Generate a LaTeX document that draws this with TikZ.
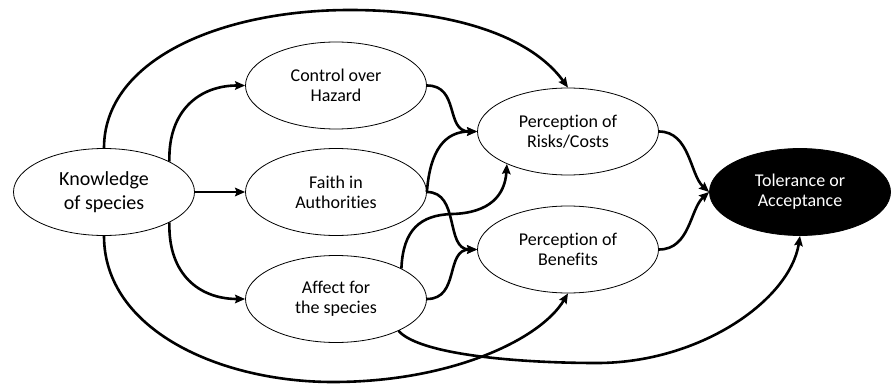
\documentclass[tikz,border=0pt]{standalone}
\usepackage{fontspec}
\setmainfont{Carlito}[RawFeature={-liga}]
\usetikzlibrary{shapes.geometric,arrows.meta}
\begin{document}
\begin{tikzpicture}[x=1pt,y=-1pt,
  ell/.style={ellipse,draw,line width=0.8pt,minimum width=181pt,minimum height=87pt,inner sep=0pt,align=center,font=\fontsize{18}{20}\selectfont},
  conn/.style={line width=2.6pt,-{Stealth[length=10pt,width=8.5pt,inset=1.5pt]}},
  ]
\useasboundingbox (0,0) rectangle (891,385);
\node[ell,font=\fontsize{20}{23.5}\selectfont] (know) at (104,192) {Knowledge\\of species};
\node[ell] (ctrl) at (336,85.5) {Control over\\Hazard};
\node[ell] (faith) at (336,192) {Faith in\\Authorities};
\node[ell] (aff) at (336,299) {Affect for\\the species};
\node[ell] (risk) at (568,131.5) {Perception of\\Risks/Costs};
\node[ell] (ben) at (568,249.5) {Perception of\\Benefits};
\node[ell,fill=black,text=white] (tol) at (800,192) {Tolerance or\\Acceptance};

\draw[conn] (know.east) -- (faith.west);
\draw[conn] (know.25) .. controls (168,110) and (200,85.5) .. (ctrl.west);
\draw[conn] (know.-25) .. controls (168,275) and (200,299) .. (aff.west);
\draw[conn] (know.north) .. controls (104,60) and (220,10) .. (350,10) .. controls (450,10) and (530,35) .. (risk.north);
\draw[conn] (know.south) .. controls (104,330) and (220,382) .. (333,382) .. controls (450,382) and (540,340) .. (ben.south);
\draw[conn] (ctrl.east) .. controls (460,85.5) and (445,131.5) .. (risk.west);
\draw[conn] (faith.east) .. controls (430,150) and (445,131.5) .. (risk.west);
\draw[conn] (faith.east) .. controls (460,192) and (445,249.5) .. (ben.west);
\draw[conn] (aff.east) .. controls (460,299) and (445,249.5) .. (ben.west);
\draw[conn] (aff.25) .. controls (403,230) and (420,215) .. (452,214) .. controls (490,213) and (505,195) .. (risk.-152);
\draw[conn] (aff.-27) .. controls (420,355) and (520,363) .. (597,363) .. controls (700,363) and (790,300) .. (tol.south);
\draw[conn] (risk.east) .. controls (690,131.5) and (690,175) .. (tol.west);
\draw[conn] (ben.east) .. controls (690,249.5) and (690,209) .. (tol.west);
\end{tikzpicture}
\end{document}
